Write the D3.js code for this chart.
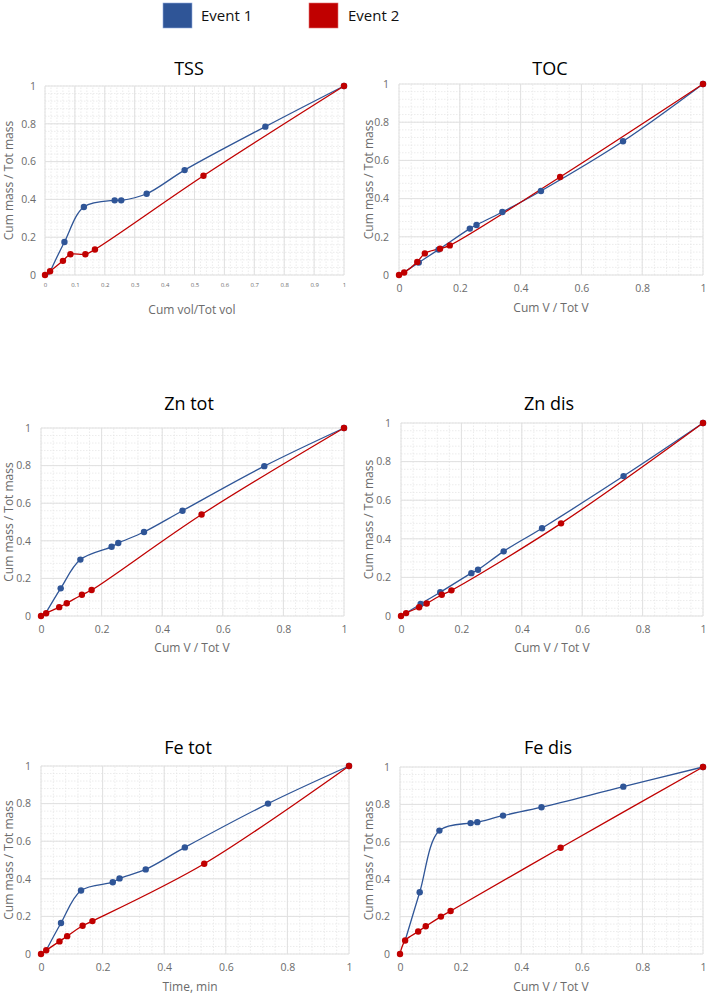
<!DOCTYPE html>
<html><head><meta charset="utf-8">
<script src="https://cdn.jsdelivr.net/npm/d3@7"></script>
<style>body{margin:0;background:#fff}svg{display:block}</style>
</head><body>
<svg id="c" width="709" height="994"></svg>
<script>
const seriesNames = ["Event 1", "Event 2"];
const seriesColors = ["#2F5597", "#C00000"];
const panelTitles = ["TSS", "TOC", "Zn tot", "Zn dis", "Fe tot", "Fe dis"];
const xAxisLabels = ["Cum vol/Tot vol", "Cum V / Tot V", "Cum V / Tot V", "Cum V / Tot V", "Time, min", "Cum V / Tot V"];
const yAxisLabel = "Cum mass / Tot mass";
const yTicks = [0, 0.2, 0.4, 0.6, 0.8, 1];
const xTicksFine = [0, 0.1, 0.2, 0.3, 0.4, 0.5, 0.6, 0.7, 0.8, 0.9, 1];
const xTicksCoarse = [0, 0.2, 0.4, 0.6, 0.8, 1];

const event1X = [0.012, 0.065, 0.13, 0.233, 0.255, 0.34, 0.467, 0.737, 1];
const event2X = [0, 0.017, 0.06, 0.085, 0.135, 0.167, 0.53, 1];

const tssE1 = [0, 0.175, 0.36, 0.395, 0.395, 0.43, 0.555, 0.785, 1];
const tssE2 = [0, 0.02, 0.075, 0.11, 0.11, 0.135, 0.525, 1];
const tocE1 = [0.01, 0.065, 0.133, 0.243, 0.262, 0.33, 0.44, 0.70, 1];
const tocE2 = [0, 0.013, 0.068, 0.113, 0.138, 0.155, 0.513, 1];
const znTotE1 = [0.005, 0.147, 0.30, 0.368, 0.388, 0.447, 0.56, 0.797, 1];
const znTotE2 = [0, 0.015, 0.047, 0.068, 0.113, 0.138, 0.54, 1];
const znDisE1 = [0.01, 0.062, 0.123, 0.222, 0.24, 0.335, 0.455, 0.725, 1];
const znDisE2 = [0, 0.015, 0.045, 0.065, 0.11, 0.133, 0.48, 1];
const feTotE1 = [0.02, 0.165, 0.338, 0.382, 0.402, 0.45, 0.567, 0.80, 1];
const feTotE2 = [0, 0.02, 0.067, 0.095, 0.15, 0.175, 0.48, 1];
const feDisE1 = [0.072, 0.33, 0.66, 0.70, 0.705, 0.74, 0.785, 0.895, 1];
const feDisE2 = [0, 0.072, 0.12, 0.148, 0.20, 0.23, 0.568, 1];

const event1First = [0.012, 0.012, 0.012, 0.012, 0.017, 0.017];
const e1Values = [tssE1, tocE1, znTotE1, znDisE1, feTotE1, feDisE1];
const e2Values = [tssE2, tocE2, znTotE2, znDisE2, feTotE2, feDisE2];

const svg = d3.select("#c");
const font = "'Open Sans', 'Noto Sans', sans-serif";

// Legend
const leg = [{x:163,tx:201},{x:309,tx:348}];
leg.forEach((l,i)=>{
  svg.append("rect").attr("x",l.x).attr("y",3).attr("width",29).attr("height",25)
    .attr("fill",seriesColors[i]).attr("stroke", i===0?"#8faadc":"#e07070").attr("stroke-width",0.6);
  svg.append("text").attr("x",l.tx).attr("y",21).attr("font-family",font).attr("font-size",15)
    .attr("fill","#111").text(seriesNames[i]);
});

// panel layout
const panels = [
  {x0:45,x1:344,y1:86,y0:275,tx:189,ty:75,lx:192,ly:314,yl:9,fine:true},
  {x0:399,x1:703,y1:84,y0:275,tx:550,ty:75,lx:551,ly:312,yl:369},
  {x0:41,x1:344,y1:428,y0:616,tx:189,ty:410,lx:192,ly:652,yl:9},
  {x0:401,x1:703,y1:423,y0:616,tx:549,ty:410,lx:552,ly:652,yl:369},
  {x0:41,x1:349,y1:766,y0:954,tx:188,ty:754,lx:190,ly:991,yl:9},
  {x0:400,x1:703,y1:767,y0:954,tx:548,ty:754,lx:551,ly:991,yl:369}
];

panels.forEach((p,k)=>{
  const g = svg.append("g");
  const x = d3.scaleLinear().domain([0,1]).range([p.x0,p.x1]);
  const y = d3.scaleLinear().domain([0,1]).range([p.y0,p.y1]);
  const xMajor = p.fine ? xTicksFine : xTicksCoarse;
  const xStep = p.fine ? 0.02 : 0.04;
  // minor grids
  const xMinor = d3.range(0, 1.0001, xStep).map(v=>+v.toFixed(3));
  const yMinor = d3.range(0, 1.0001, 0.04).map(v=>+v.toFixed(3));
  g.selectAll(".xm").data(xMinor).join("line")
    .attr("x1",d=>x(d)).attr("x2",d=>x(d)).attr("y1",y(0)).attr("y2",y(1))
    .attr("stroke","#e4e4e4").attr("stroke-width",0.7).attr("stroke-dasharray","1.5,1.5");
  g.selectAll(".ym").data(yMinor).join("line")
    .attr("y1",d=>y(d)).attr("y2",d=>y(d)).attr("x1",x(0)).attr("x2",x(1))
    .attr("stroke","#e4e4e4").attr("stroke-width",0.7).attr("stroke-dasharray","1.5,1.5");
  // major grids
  g.selectAll(".xM").data(xMajor).join("line")
    .attr("x1",d=>x(d)).attr("x2",d=>x(d)).attr("y1",y(0)).attr("y2",y(1))
    .attr("stroke","#e0e0e0").attr("stroke-width",1);
  g.selectAll(".yM").data(yTicks).join("line")
    .attr("y1",d=>y(d)).attr("y2",d=>y(d)).attr("x1",x(0)).attr("x2",x(1))
    .attr("stroke","#e0e0e0").attr("stroke-width",1);

  // axes (text only)
  const xa = g.append("g").attr("transform",`translate(0,${p.y0})`)
    .call(d3.axisBottom(x).tickValues(xMajor).tickFormat(d3.format("~g")).tickSize(0).tickPadding(p.fine?8:10));
  xa.select(".domain").remove();
  xa.selectAll("text").attr("font-family",font).attr("font-size",p.fine?6:10.5).attr("fill","#6b6b6b");
  const ya = g.append("g").attr("transform",`translate(${p.x0},0)`)
    .call(d3.axisLeft(y).tickValues(yTicks).tickFormat(d3.format("~g")).tickSize(0).tickPadding(p.fine?9:10));
  ya.select(".domain").remove();
  ya.selectAll("text").attr("font-family",font).attr("font-size",10.5).attr("fill","#6b6b6b");

  // titles
  g.append("text").attr("x",p.tx).attr("y",p.ty).attr("text-anchor","middle")
    .attr("font-family",font).attr("font-size",18).attr("fill","#000").text(panelTitles[k]);
  g.append("text").attr("x",p.lx).attr("y",p.ly).attr("text-anchor","middle")
    .attr("font-family",font).attr("font-size",12).attr("fill","#6b6b6b").text(xAxisLabels[k]);
  g.append("text").attr("transform",`translate(${p.yl},${(p.y0+p.y1)/2}) rotate(-90)`)
    .attr("text-anchor","middle").attr("dy","0.35em")
    .attr("font-family",font).attr("font-size",12).attr("fill","#6b6b6b").text(yAxisLabel);

  const e1 = event1X.map((v,i)=>[i===0?event1First[k]:v, e1Values[k][i]]);
  const e2 = event2X.map((v,i)=>[v, e2Values[k][i]]);
  const line = d3.line().x(d=>x(d[0])).y(d=>y(d[1])).curve(d3.curveCatmullRom.alpha(0.5));
  [[e1,0],[e2,1]].forEach(([data,si])=>{
    g.append("path").datum(data).attr("d",line).attr("fill","none")
      .attr("stroke",seriesColors[si]).attr("stroke-width",1.3);
  });
  [[e1,0],[e2,1]].forEach(([data,si])=>{
    g.selectAll(null).data(data.slice(si===0?1:0)).join("circle")
      .attr("cx",d=>x(d[0])).attr("cy",d=>y(d[1])).attr("r",3.2)
      .attr("fill",seriesColors[si]);
  });
});
</script>
</body></html>
